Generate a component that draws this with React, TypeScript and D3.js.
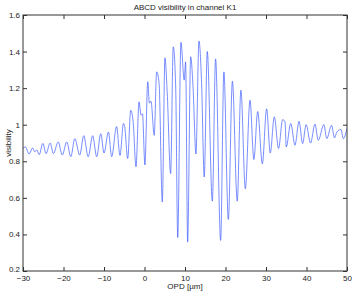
import { useEffect, useRef } from "react";
import * as d3 from "d3";

// OPD positions [µm] of the peaks/troughs
const opd = [
  -30.0, -29.4, -28.5, -27.6, -27.1, -26.6, -26.0, -25.1, -24.3, -23.3,
  -22.5, -21.3, -20.3, -19.2, -18.2, -17.2, -16.0, -15.0, -13.9, -12.8,
  -11.8, -10.8, -10.0, -8.9, -8.1, -6.9, -6.05, -5.2, -4.9, -4.15,
  -3.4, -2.8, -2.1, -1.35, -0.85, -0.5, 0.1, 0.8, 1.2, 1.6,
  2.4, 3.0, 3.6, 4.4, 5.05, 5.6, 6.45, 7.1, 7.7, 8.2,
  9.0, 9.8, 10.15, 10.65, 11.4, 12.0, 12.7, 13.45, 14.1, 14.75,
  15.5, 16.75, 17.55, 18.8, 19.6, 20.7, 21.7, 22.9, 23.8, 24.9,
  26.05, 27.0, 27.95, 29.1, 30.15, 31.05, 32.05, 33.1, 34.1, 34.7,
  35.0, 36.1, 37.15, 38.15, 39.05, 39.9, 41.0, 42.1, 42.9, 44.3,
  45.0, 46.2, 46.9, 47.5, 48.5, 49.1, 50.0,
];

const visibility = [
  0.87, 0.878, 0.84, 0.873, 0.852, 0.862, 0.836, 0.898, 0.842, 0.9,
  0.842, 0.906, 0.834, 0.906, 0.825, 0.924, 0.834, 0.94, 0.825, 0.94,
  0.825, 0.951, 0.845, 0.96, 0.825, 0.99, 0.832, 1.007, 0.99, 0.815,
  1.079, 1.016, 0.77, 1.125, 1.052, 1.06, 0.78, 1.235, 1.118, 1.129,
  0.942, 1.289, 1.227, 0.577, 1.366, 1.18, 0.733, 1.426, 1.207, 0.383,
  1.45, 1.244, 1.344, 0.358, 1.372, 1.2, 0.84, 1.458, 1.226, 0.714,
  1.4, 0.582, 1.36, 0.367, 1.289, 0.482, 1.238, 0.582, 1.189, 0.65,
  1.134, 0.81, 1.072, 0.786, 1.087, 0.845, 1.043, 0.87, 1.028, 1.015,
  0.878, 1.007, 0.888, 1.019, 0.897, 1.001, 0.9, 1.003, 0.915, 1.001,
  0.924, 0.997, 0.928, 0.96, 0.974, 0.924, 0.979,
];

const xTicks = [-30, -20, -10, 0, 10, 20, 30, 40, 50];
const yTicks = [0.2, 0.4, 0.6, 0.8, 1, 1.2, 1.4, 1.6];

const W = 354;
const H = 291;
const margin = { left: 23, right: 7, top: 15, bottom: 20 };
const font = "'Liberation Sans', Arial, sans-serif";

export default function App() {
  const svgRef = useRef<SVGSVGElement>(null);

  useEffect(() => {
    const svg = d3.select(svgRef.current);
    const x0 = margin.left, x1 = W - margin.right;
    const y0 = margin.top, y1 = H - margin.bottom;

    const xScale = d3.scaleLinear().domain([-30, 50]).range([x0, x1]);
    const yScale = d3.scaleLinear().domain([0.2, 1.6]).range([y1, y0]);

    const fmtX = (d: number) => (d < 0 ? "\u2212" + Math.abs(d) : String(d));

    svg.select(".x-axis")
      .attr("transform", `translate(0, ${y1})`)
      .call(d3.axisBottom(xScale).tickValues(xTicks).tickSizeInner(-4).tickSizeOuter(0).tickPadding(4).tickFormat(fmtX as any) as any);
    svg.select(".x-top")
      .attr("transform", `translate(0, ${y0})`)
      .call(d3.axisTop(xScale).tickValues(xTicks).tickSizeInner(-4).tickSizeOuter(0).tickFormat(() => "") as any);
    svg.select(".y-axis")
      .attr("transform", `translate(${x0}, 0)`)
      .call(d3.axisLeft(yScale).tickValues(yTicks).tickSizeInner(-4).tickSizeOuter(0).tickPadding(3).tickFormat(d3.format("~g") as any) as any);
    svg.select(".y-right")
      .attr("transform", `translate(${x1}, 0)`)
      .call(d3.axisRight(yScale).tickValues(yTicks).tickSizeInner(-4).tickSizeOuter(0).tickFormat(() => "") as any);

    svg.selectAll(".x-axis, .x-top, .y-axis, .y-right")
      .attr("font-family", font)
      .attr("font-size", 8)
      .call((g: any) => g.select(".domain").remove())
      .call((g: any) => g.selectAll(".tick line").attr("stroke", "#333"))
      .call((g: any) => g.selectAll(".tick text").attr("fill", "#222"));

    // lowest y label sits a bit higher so it clears the "−30" below it
    svg.select(".y-axis").selectAll(".tick text")
      .filter((d: any) => d === 0.2)
      .attr("dy", "0.1em");

    const line = d3.line<number>()
      .x((_, i) => xScale(opd[i]))
      .y(d => yScale(d))
      .curve(d3.curveMonotoneX);

    svg.select(".trace")
      .attr("d", line(visibility))
      .attr("fill", "none")
      .attr("stroke", "#3f5cff")
      .attr("stroke-width", 0.7)
      .attr("clip-path", "url(#plot-clip)");

    svg.select(".box")
      .attr("x", x0).attr("y", y0)
      .attr("width", x1 - x0).attr("height", y1 - y0);
    svg.select("#plot-clip rect")
      .attr("x", x0).attr("y", y0)
      .attr("width", x1 - x0).attr("height", y1 - y0);
  }, []);

  return (
    <svg ref={svgRef} width={W} height={H} style={{ position: "absolute", left: 0, top: 0, background: "#fff" }}>
      <defs>
        <clipPath id="plot-clip"><rect /></clipPath>
      </defs>
      <path className="trace" />
      <rect className="box" fill="none" stroke="#333" strokeWidth={1} />
      <g className="x-axis" />
      <g className="x-top" />
      <g className="y-axis" />
      <g className="y-right" />
      <text x={185} y={10} textAnchor="middle" fontFamily={font} fontSize={8} fill="#222">
        ABCD visibility in channel K1
      </text>
      <text x={185} y={289} textAnchor="middle" fontFamily={font} fontSize={8} fill="#222">
        OPD [µm]
      </text>
      <text transform="translate(11, 143) rotate(-90)" textAnchor="middle" fontFamily={font} fontSize={8} fill="#222">
        visibility
      </text>
    </svg>
  );
}
